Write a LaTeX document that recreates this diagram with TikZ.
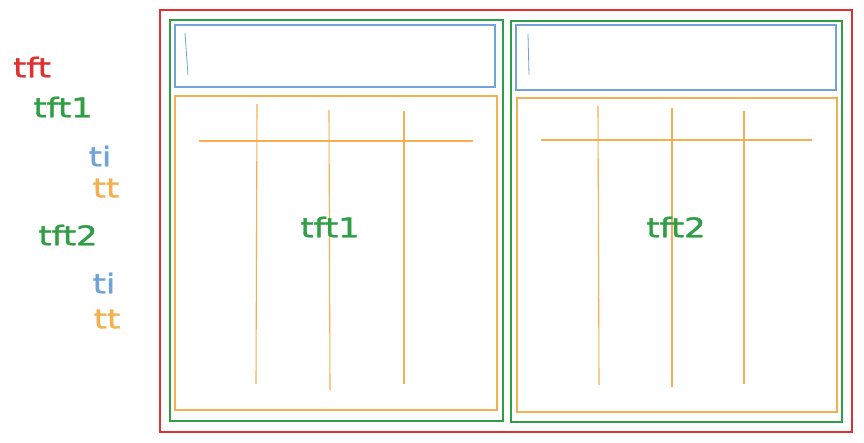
\documentclass[tikz,border=0pt]{standalone}
\usepackage{fontspec}
\setmainfont{DejaVu Sans}
\newfontfamily\handfont[FakeStretch=1.25, FakeBold=1.5]{DejaVu Sans}
\definecolor{cred}{HTML}{E03131}
\definecolor{cgreen}{HTML}{2F9E44}
\definecolor{cblue}{HTML}{6FA3DA}
\definecolor{corange}{HTML}{F4B050}
\tikzset{
  frame/.style={draw, line width=1.2pt},
  redbox/.style={frame, cred},
  greenbox/.style={frame, cgreen},
  bluebox/.style={frame, cblue},
  orangebox/.style={frame, corange},
  gridline/.style={corange, line width=1.1pt},
  lbl/.style={font=\handfont\fontsize{27}{29}\selectfont, inner sep=0pt, anchor=center},
}
\begin{document}
\begin{tikzpicture}[x=1pt,y=-1pt]
\useasboundingbox (0,0) rectangle (864,443);
% outer red
\draw[redbox] (160,10) rectangle (852,432);
% green containers
\draw[greenbox] (170,20) rectangle (503,421);
\draw[greenbox] (511,21) rectangle (842,422);
% blue headers
\draw[bluebox] (175,25) rectangle (495,87);
\draw[bluebox] (516,25) rectangle (836,90);
\draw[cblue, line width=0.8pt] (185,33) -- (188,75);
\draw[cblue, line width=0.8pt] (528,34) -- (529,75);
% orange tables
\draw[orangebox] (175,96) rectangle (497,410);
\draw[orangebox] (517,98) rectangle (837,412);
% grid lines left
\coordinate (lh1) at (199,141); \coordinate (lh2) at (473,141);
\draw[gridline] (lh1) -- (lh2);
\coordinate (la1) at (257,104); \coordinate (la2) at (256,384);
\coordinate (lb1) at (329,110); \coordinate (lb2) at (330,390);
\coordinate (lc1) at (404,111); \coordinate (lc2) at (404,384);
\draw[gridline] (la1) -- (la2);
\draw[gridline] (lb1) -- (lb2);
\draw[gridline] (lc1) -- (lc2);
% grid lines right
\coordinate (rh1) at (541,140); \coordinate (rh2) at (812,140);
\draw[gridline] (rh1) -- (rh2);
\coordinate (ra1) at (598,106); \coordinate (ra2) at (599,385);
\coordinate (rb1) at (672,108); \coordinate (rb2) at (672,387);
\coordinate (rc1) at (744,111); \coordinate (rc2) at (744,384);
\draw[gridline] (ra1) -- (ra2);
\draw[gridline] (rb1) -- (rb2);
\draw[gridline] (rc1) -- (rc2);
% center labels
\node[lbl, text=cgreen] (c1) at (330,227) {tft1};
\node[lbl, text=cgreen] (c2) at (676,227) {tft2};
% legend
\node[lbl, text=cred] (l0) at (32,67) {tft};
\node[lbl, text=cgreen] (l1) at (63,107) {tft1};
\node[lbl, text=cblue] (l2) at (100,156) {ti};
\node[lbl, text=corange] (l3) at (106,188) {tt};
\node[lbl, text=cgreen] (l4) at (68,235) {tft2};
\node[lbl, text=cblue] (l5) at (104,283) {ti};
\node[lbl, text=corange] (l6) at (107,319) {tt};
\end{tikzpicture}
\end{document}
